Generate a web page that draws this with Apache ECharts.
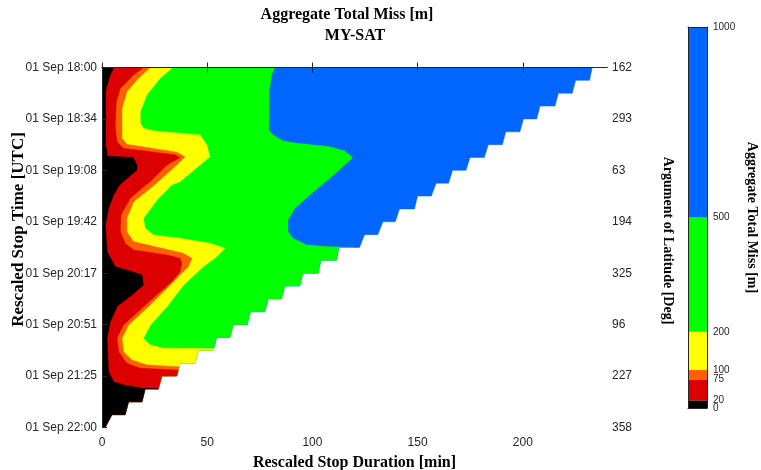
<!DOCTYPE html>
<html>
<head>
<meta charset="utf-8">
<script src="https://cdn.jsdelivr.net/npm/echarts@6/dist/echarts.min.js"></script>
<style>
  html, body { margin: 0; padding: 0; background: #fff; }
  #chart { width: 761px; height: 470px; }
</style>
</head>
<body>
<div id="chart"></div>
<script>
// colour levels of the filled contour (metres)
var levels = [0, 20, 75, 100, 200, 500, 1000];
var levelColors = ['#000000', '#DD0000', '#FF6000', '#FFFF00', '#00FF00', '#0066FF'];

var durationTicks = [0, 50, 100, 150, 200];
var timeLabels = ['01 Sep 18:00', '01 Sep 18:34', '01 Sep 19:08', '01 Sep 19:42',
                  '01 Sep 20:17', '01 Sep 20:51', '01 Sep 21:25', '01 Sep 22:00'];
var argLatLabels = ['162', '293', '63', '194', '325', '96', '227', '358'];

// contour lines: [stop time (min after 18:00), stop duration (min)]
var line20 = [[0, 5.5], [5, 3.9], [11.7, 2.4], [16.3, 1.7], [51.7, 1.7], [56.1, 2.4], [59, 2.4],
  [60, 14.8], [65, 16.6], [68.3, 16.6], [78.3, 8.3], [85, 5.5], [93.9, 3.1], [105, 1.6],
  [122.8, 2.4], [132.8, 6.3], [137.2, 16.7], [138.3, 19], [145, 19.7], [151.7, 14.2],
  [159, 7.3], [169.5, 3.9], [180.5, 2.4], [202.8, 3.1], [209.5, 5.5], [211.7, 10.2],
  [213.9, 19.7], [215, 100]];
var line75 = [[0, 19.7], [5, 15], [13.9, 8.7], [22.8, 6.8], [38.3, 6.3], [49.5, 7.1],
  [53.9, 10.2], [56.1, 22.9], [58.3, 34.7], [60.1, 37.1], [65, 30.8], [76.1, 22.9],
  [79, 20.2], [87.2, 13.4], [98.3, 9], [109.5, 8.7], [117.2, 11], [121.7, 15], [125, 30.8],
  [127.2, 37.1], [130.5, 37.9], [136.1, 37.1], [142.8, 33.2], [149.5, 27.6], [159.5, 19.7],
  [171.7, 10.2], [180.5, 7.1], [189.5, 7.9], [197.2, 11.8], [200.5, 18.2], [201.7, 35.5],
  [202.3, 70]];
var line100 = [[0, 22.9], [7.2, 17.3], [16.1, 11.8], [27.2, 9.5], [47.2, 9.5], [51.2, 11.8],
  [56.5, 35.5], [59.5, 39.5], [65, 35.5], [78.3, 24.9], [89.5, 15], [100.5, 11.8],
  [109.5, 11.8], [116.1, 15], [123.9, 38.7], [127.2, 42.7], [132.8, 41], [140.5, 35.5],
  [149.5, 29.2], [159.3, 22.1], [171.7, 12.6], [180.5, 9.5], [189.5, 10.2], [195, 14.2],
  [198.3, 21.3], [199.5, 36.3], [200, 70]];
var line200 = [[0, 33.6], [7.2, 27.6], [18.3, 21.3], [29.5, 18.2], [37.2, 18.2], [40.5, 19.7],
  [42.3, 24.5], [45, 46.6], [51.7, 49.8], [59.5, 51.3], [65, 46.6], [76.1, 37.1], [78.3, 33.2],
  [81.7, 30.8], [87.2, 26.8], [100.5, 19.7], [107.2, 20.5], [111.7, 24.5], [113.9, 37.1],
  [117.2, 51.3], [120.5, 58.4], [126.1, 54.5], [132.8, 48.2], [145, 38.8], [159.3, 31],
  [171.7, 23], [180.5, 19.7], [185, 22.9], [187.2, 29.2], [187.3, 46.6], [187.7, 75]];
var line500 = [[0, 82.1], [5, 80.6], [16.1, 79.4], [41.7, 79.3], [45, 81.3], [49, 86.1],
  [50.5, 92.4], [52.8, 108.2], [55.7, 115.3], [60.1, 119.2], [65, 115.3], [73.9, 108.2],
  [85, 98.7], [93.9, 91.6], [101.7, 88.4], [109.5, 88.4], [113.9, 90.8], [118.3, 97.2],
  [119.5, 108.2], [120, 120], [120.3, 160]];

// right edge of the computed region, one step per stop-time row (duration at row top / bottom)
var edgeTop = [233.0, 225.1, 216.9, 208.2, 200.3, 191.9, 183.6, 174.9, 166.6, 158.8, 150.0,
  141.4, 133.5, 124.8, 112.6, 104.0, 95.5, 86.9, 79.0, 70.6, 62.4, 54.5, 45.8, 37.1, 28.4,
  20.5, 12.6, 4.7];
var edgeBottom = [231.7, 223.5, 215.3, 206.6, 198.6, 190.3, 181.7, 173.0, 164.7, 156.5, 148.5,
  139.4, 131.1, 122.4, 111.4, 102.8, 94.0, 85.3, 77.4, 69.0, 60.8, 52.9, 44.2, 35.5, 26.8,
  19.0, 11.0, 1.5];

var T_MAX = 240, D_MAX = 240;
var serif = 'Liberation Serif', sans = 'Liberation Sans';

// painted from the outside in: blue area, then each lower level on top
var bandLines = [null, line500, line200, line100, line75, line20];
var bandColors = ['#0066FF', '#00FF00', '#FFFF00', '#FF6000', '#DD0000', '#000000'];

function interp(line, t) {
  if (t <= line[0][0]) return line[0][1];
  for (var i = 1; i < line.length; i++) {
    if (t <= line[i][0]) {
      var a = line[i - 1], b = line[i];
      return a[1] + (b[1] - a[1]) * (t - a[0]) / (b[0] - a[0]);
    }
  }
  return line[line.length - 1][1];
}

function outline(line) {
  var n = edgeTop.length, h = T_MAX / n, pts = [];
  for (var k = 0; k < n; k++) {
    var t0 = k * h, t1 = (k + 1) * h, ts = [];
    for (var s = 0; s <= 24; s++) ts.push(t0 + h * s / 24);
    if (line) line.forEach(function (p) { if (p[0] > t0 && p[0] < t1) ts.push(p[0]); });
    ts.sort(function (a, b) { return a - b; });
    ts.forEach(function (t) {
      var e = edgeTop[k] + (edgeBottom[k] - edgeTop[k]) * (t - t0) / h;
      pts.push([line ? Math.min(interp(line, t), e) : e, t]);
    });
  }
  pts.push([0, T_MAX]);
  pts.push([0, 0]);
  return pts;
}

var step = T_MAX / 7;
var axisColor = '#262626';
var nameStyle = { fontFamily: serif, fontWeight: 'bold', color: '#000' };
var titleStyle = { align: 'center', fontFamily: serif, fontWeight: 'bold', fontSize: 16, fill: '#000' };
var cbLabel = { color: '#262626', fontFamily: sans, fontSize: 10, margin: 6, formatter: function (v) { return String(v); } };

var cbSeries = [];
for (var i = 0; i < levelColors.length; i++) {
  cbSeries.push({
    type: 'bar', xAxisIndex: 2, yAxisIndex: 2, stack: 'cb', barWidth: '100%',
    data: [levels[i + 1] - levels[i]], itemStyle: { color: levelColors[i] },
    silent: true
  });
}

var option = {
  animation: false,
  grid: [
    { left: 102, top: 67.5, width: 505, height: 360, outerBoundsMode: 'none', containLabel: false },
    { left: 688, top: 27, width: 19, height: 381, outerBoundsMode: 'none', containLabel: false }
  ],
  graphic: [
    { type: 'text', x: 347, y: 7, style: Object.assign({ text: 'Aggregate Total Miss [m]' }, titleStyle) },
    { type: 'text', x: 355, y: 28, style: Object.assign({ text: 'MY-SAT' }, titleStyle) }
  ],
  xAxis: [
    {
      type: 'value', gridIndex: 0, min: 0, max: D_MAX, z: 10,
      axisLine: { lineStyle: { color: axisColor } },
      axisTick: { inside: true, length: 5, customValues: durationTicks, lineStyle: { color: axisColor } },
      axisLabel: { color: '#262626', fontFamily: sans, fontSize: 12, margin: 9, customValues: durationTicks },
      splitLine: { show: false },
      name: 'Rescaled Stop Duration [min]', nameLocation: 'middle', nameGap: 27,
      nameTextStyle: Object.assign({ fontSize: 16 }, nameStyle)
    },
    {
      type: 'value', gridIndex: 0, position: 'top', min: 0, max: D_MAX, z: 10,
      axisLine: { lineStyle: { color: axisColor } },
      axisTick: { inside: true, length: 5, customValues: durationTicks, lineStyle: { color: axisColor } },
      axisLabel: { show: false }, splitLine: { show: false }
    },
    {
      type: 'category', gridIndex: 1, data: ['c'], z: 10,
      axisLine: { onZero: false, lineStyle: { color: axisColor } },
      axisTick: { show: false }, axisLabel: { show: false }
    },
    {
      type: 'category', gridIndex: 1, position: 'top', data: ['c'], z: 10,
      axisLine: { onZero: false, lineStyle: { color: axisColor } },
      axisTick: { show: false }, axisLabel: { show: false }
    }
  ],
  yAxis: [
    {
      type: 'value', gridIndex: 0, inverse: true, min: 0, max: T_MAX, interval: step, z: 10,
      axisLine: { lineStyle: { color: axisColor } },
      axisTick: { inside: true, length: 5, lineStyle: { color: axisColor } },
      axisLabel: {
        color: '#262626', fontFamily: sans, fontSize: 12, margin: 5,
        formatter: function (v) { return timeLabels[Math.round(v / step)]; }
      },
      splitLine: { show: false },
      name: 'Rescaled Stop Time [UTC]', nameLocation: 'middle', nameGap: 75, nameMoveOverlap: false,
      nameTextStyle: Object.assign({ fontSize: 17, padding: [0, 0, 0, 36] }, nameStyle)
    },
    {
      type: 'value', gridIndex: 0, position: 'right', inverse: true, min: 0, max: T_MAX,
      interval: step, z: 10,
      axisLine: { lineStyle: { color: axisColor } },
      axisTick: { inside: false, length: 5, lineStyle: { color: axisColor } },
      axisLabel: {
        color: '#262626', fontFamily: sans, fontSize: 12, margin: 5,
        formatter: function (v) { return argLatLabels[Math.round(v / step)]; }
      },
      splitLine: { show: false },
      name: 'Argument of Latitude [Deg]', nameLocation: 'middle', nameGap: 54, nameMoveOverlap: false,
      nameRotate: -90,
      nameTextStyle: Object.assign({ fontSize: 14, padding: [0, 14, 0, 0] }, nameStyle)
    },
    {
      type: 'value', gridIndex: 1, position: 'right', min: 0, max: 1000, z: 10,
      axisLine: { show: true, lineStyle: { color: axisColor } },
      axisTick: { show: false },
      axisLabel: Object.assign({ customValues: levels.slice(1), showMinLabel: true, showMaxLabel: true }, cbLabel),
      splitLine: { show: false },
      name: 'Aggregate Total Miss [m]', nameLocation: 'middle', nameGap: 38, nameRotate: -90,
      nameTextStyle: Object.assign({ fontSize: 14 }, nameStyle)
    },
    {
      type: 'value', gridIndex: 1, position: 'left', min: 0, max: 1000, z: 10,
      axisLine: { show: true, lineStyle: { color: axisColor } },
      axisTick: { show: false }, axisLabel: { show: false }, splitLine: { show: false }
    },
    {
      // separate axis for the lowest level so its label is not dropped next to "20"
      type: 'value', gridIndex: 1, position: 'right', min: 0, max: 1000, z: 10,
      axisLine: { show: false }, axisTick: { show: false }, splitLine: { show: false },
      axisLabel: Object.assign({ customValues: levels.slice(0, 1), showMinLabel: true }, cbLabel)
    }
  ],
  series: [{
    type: 'custom', xAxisIndex: 0, yAxisIndex: 0, silent: true, clip: true,
    data: bandColors.map(function (c, i) { return [i, 0]; }),
    renderItem: function (params, api) {
      var idx = params.dataIndex;
      var pts = outline(bandLines[idx]).map(function (p) { return api.coord(p); });
      return {
        type: 'polygon',
        shape: { points: pts },
        style: { fill: bandColors[idx], stroke: bandColors[idx], lineWidth: 0.5 }
      };
    }
  }].concat(cbSeries)
};

var myChart = echarts.init(document.getElementById('chart'));
myChart.setOption(option);
</script>
</body>
</html>
